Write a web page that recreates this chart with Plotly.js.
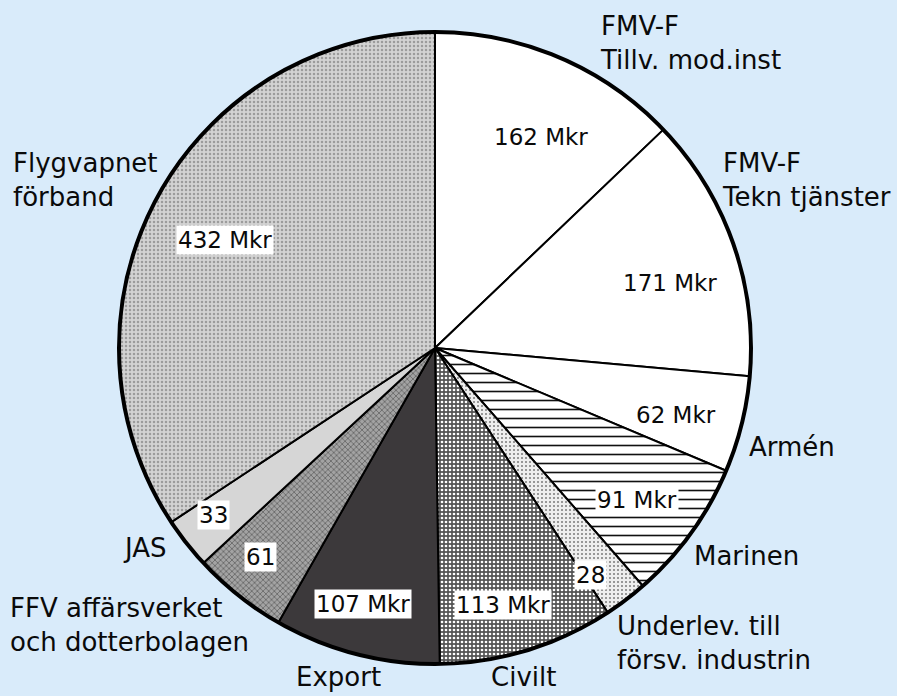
<!DOCTYPE html>
<html>
<head>
<meta charset="utf-8">
<script src="https://cdn.plot.ly/plotly-3.0.1.min.js"></script>
<style>html,body{margin:0;padding:0;background:#d9ebfa;}#chart{width:897px;height:696px;}</style>
</head>
<body>
<div id="chart"></div>
<script>
// ---- data ----
const categories = ['FMV-F<br>Tillv. mod.inst', 'FMV-F<br>Tekn tjänster', 'Armén', 'Marinen',
  'Underlev. till<br>försv. industrin', 'Civilt', 'Export', 'FFV affärsverket<br>och dotterbolagen',
  'JAS', 'Flygvapnet<br>förband'];
const values = [162, 171, 62, 91, 28, 113, 107, 61, 33, 432];
const showUnit = [true, true, true, true, false, true, true, false, false, true];
const unit = 'Mkr';

// ---- styles (kept separate from data) ----
const bgColors = ['#ffffff', '#ffffff', '#ffffff', '#ffffff', '#eeeeee', '#555555', '#3c393b', '#a3a3a3', '#d6d6d6', '#d3d3d3'];
const patShapes = ['', '', '', '-', '.', '.', '', 'x', '', '.'];
const patFg = ['#000', '#000', '#000', '#111111', '#7a7a7a', '#ffffff', '#000', '#555555', '#000', '#9c9c9c'];
const patSize = [8, 8, 8, 9, 4, 4, 8, 4, 8, 4];
const patSolid = [0.3, 0.3, 0.3, 0.18, 0.2, 0.35, 0.3, 0.3, 0.3, 0.3];

const W = 897, H = 696;
// value label centres (px) and outside label anchors (px)
const valuePos = [[541, 137], [670, 283], [676, 415], [637, 500], [590, 575], [503, 605], [363, 604], [260, 557], [213, 515], [225, 240]];
const namePos = [[598, 43, 'left'], [720, 180, 'left'], [747, 447, 'left'], [692, 556, 'left'], [615, 643, 'left'],
  [523, 677, 'center'], [338, 677, 'center'], [8, 625, 'left'], [145, 548, 'center'], [11, 180, 'left']];

const cx = 435, cy = 348, r = 316;
const domain = {x: [(cx - r) / W, (cx + r) / W], y: [1 - (cy + r) / H, 1 - (cy - r) / H]};
const total = values.reduce((a, b) => a + b, 0);

const pie = {
  type: 'pie', labels: categories, values: values, sort: false, direction: 'clockwise', rotation: 0,
  textinfo: 'none', hoverinfo: 'skip', showlegend: false, domain: domain,
  marker: {
    colors: bgColors,
    line: {color: '#000000', width: 2},
    pattern: {shape: patShapes, fgcolor: patFg, bgcolor: bgColors, size: patSize, solidity: patSolid}
  }
};
const outline = {
  type: 'pie', labels: ['total'], values: [total], textinfo: 'none', hoverinfo: 'skip', showlegend: false,
  domain: domain, marker: {colors: ['rgba(0,0,0,0)'], line: {color: '#000000', width: 4}}
};

const font = "'DejaVu Sans', 'Liberation Sans', sans-serif";
const annotations = [];
values.forEach((v, i) => {
  annotations.push({
    xref: 'paper', yref: 'paper', x: valuePos[i][0] / W, y: 1 - valuePos[i][1] / H,
    xanchor: 'center', yanchor: 'middle', showarrow: false,
    text: v + (showUnit[i] ? ' ' + unit : ''), bgcolor: '#ffffff', borderpad: 1,
    font: {family: font, size: 23, color: '#0a0a0a'}
  });
  annotations.push({
    xref: 'paper', yref: 'paper', x: namePos[i][0] / W, y: 1 - namePos[i][1] / H,
    xanchor: namePos[i][2], yanchor: 'middle', align: 'left', showarrow: false,
    text: categories[i], font: {family: font, size: 26, color: '#0a0a0a'}
  });
});

Plotly.newPlot('chart', [pie, outline], {
  width: W, height: H, margin: {l: 0, r: 0, t: 0, b: 0},
  paper_bgcolor: '#d9ebfa', plot_bgcolor: '#d9ebfa', annotations: annotations
}, {displayModeBar: false, staticPlot: true});
</script>
</body>
</html>
